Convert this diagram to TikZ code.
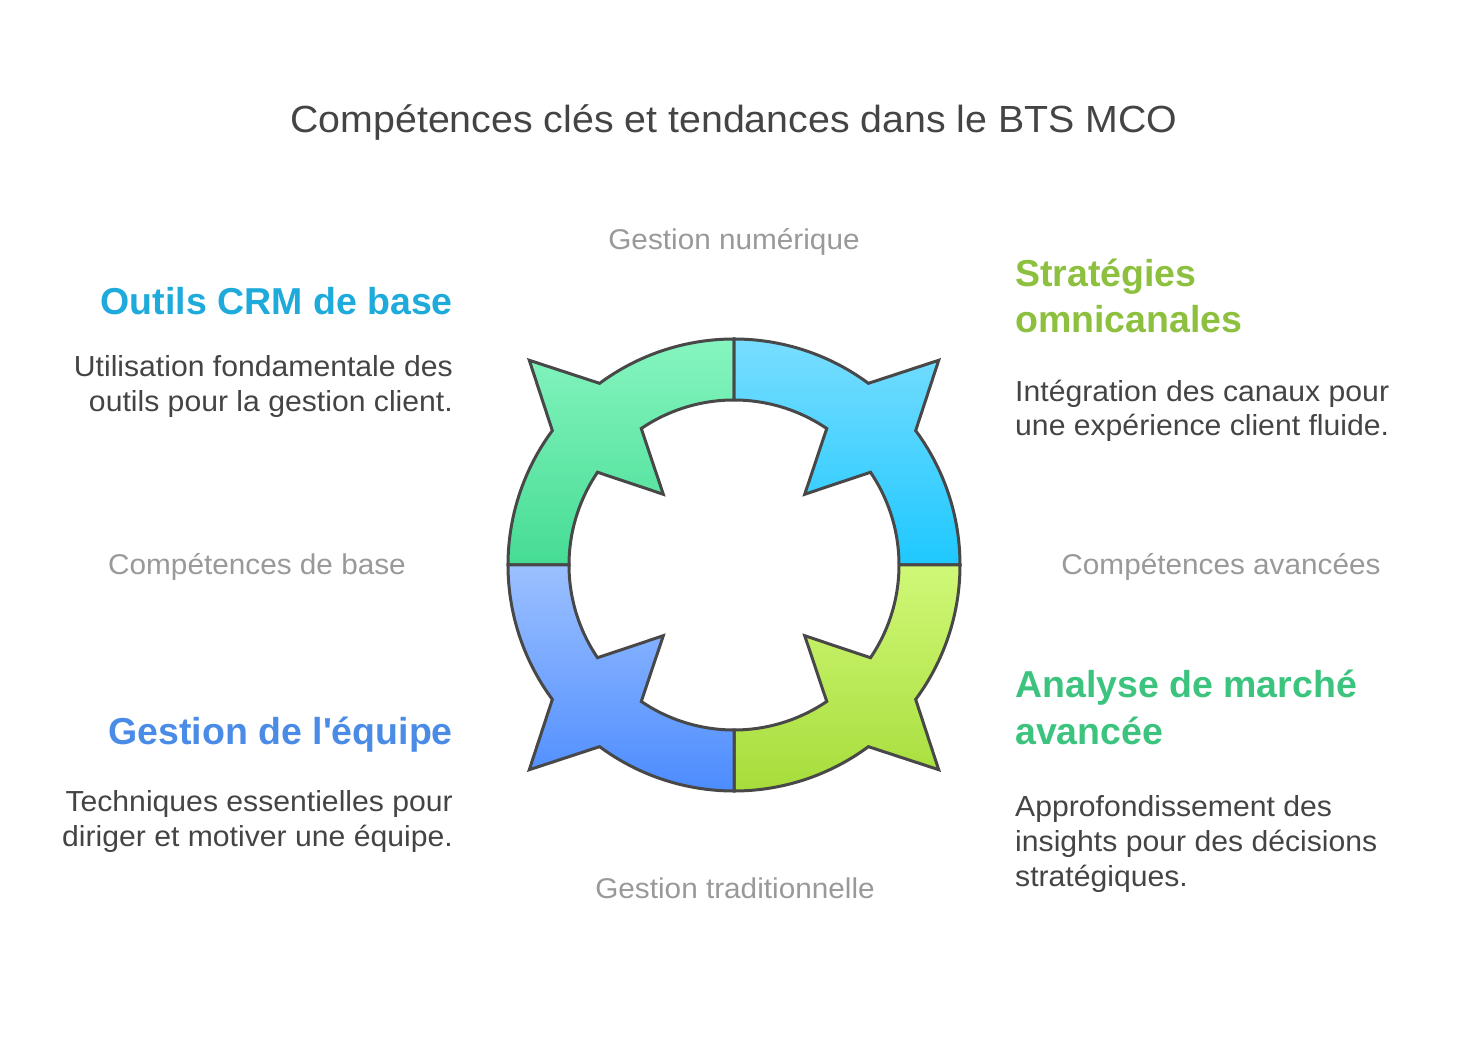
\documentclass[tikz,border=0pt]{standalone}
\usepackage{fontspec}
\setmainfont{Liberation Sans}
\newfontfamily\regwide[FakeStretch=1.04]{Liberation Sans}
\definecolor{ink}{HTML}{444444}
\definecolor{axisgrey}{HTML}{999999}
\definecolor{edge}{HTML}{484848}
\definecolor{crmblue}{HTML}{1EAADB}
\definecolor{stratgreen}{HTML}{8DC03E}
\definecolor{analgreen}{HTML}{3CC47F}
\definecolor{teamblue}{HTML}{4A8BE6}
\definecolor{tlTop}{HTML}{86F5C0}
\definecolor{tlBot}{HTML}{46DC94}
\definecolor{trTop}{HTML}{78DDFF}
\definecolor{trBot}{HTML}{1EC8FF}
\definecolor{brTop}{HTML}{D0F877}
\definecolor{brBot}{HTML}{A6DD3B}
\definecolor{blTop}{HTML}{9CC0FF}
\definecolor{blBot}{HTML}{4C8CFF}
\begin{document}
\begin{tikzpicture}[x=1pt,y=1pt,
  quad/.style={draw=edge, line width=3pt, line join=miter},
  titletext/.style={font=\regwide\fontsize{37.8}{45}\selectfont, text=ink, inner sep=0pt},
  axislabel/.style={font=\regwide\fontsize{28.6}{34}\selectfont, text=axisgrey, inner sep=0pt},
  headtext/.style={font=\fontsize{37.5}{45}\selectfont\bfseries, inner sep=0pt},
  desctext/.style={font=\regwide\fontsize{29}{35}\selectfont, text=ink, inner sep=0pt}]
\useasboundingbox (0,0) rectangle (1469,1036);

\begin{scope}[shift={(734,471)}]
  % top-left
  \path[quad, top color=tlTop, bottom color=tlBot]
    (90:226) arc[start angle=90,end angle=126.5,radius=226] -- (135:289.5) -- (143.5:226)
    arc[start angle=143.5,end angle=180,radius=226] -- (180:165)
    arc[start angle=180,end angle=145.8,radius=165] -- (135:100) -- (124.2:165)
    arc[start angle=124.2,end angle=90,radius=165] -- cycle;
  % top-right
  \path[quad, top color=trTop, bottom color=trBot]
    (0:226) arc[start angle=0,end angle=36.5,radius=226] -- (45:289.5) -- (53.5:226)
    arc[start angle=53.5,end angle=90,radius=226] -- (90:165)
    arc[start angle=90,end angle=55.8,radius=165] -- (45:100) -- (34.2:165)
    arc[start angle=34.2,end angle=0,radius=165] -- cycle;
  % bottom-right
  \path[quad, top color=brTop, bottom color=brBot]
    (270:226) arc[start angle=270,end angle=306.5,radius=226] -- (315:289.5) -- (323.5:226)
    arc[start angle=323.5,end angle=360,radius=226] -- (0:165)
    arc[start angle=360,end angle=325.8,radius=165] -- (315:100) -- (304.2:165)
    arc[start angle=304.2,end angle=270,radius=165] -- cycle;
  % bottom-left
  \path[quad, top color=blTop, bottom color=blBot]
    (180:226) arc[start angle=180,end angle=216.5,radius=226] -- (225:289.5) -- (233.5:226)
    arc[start angle=233.5,end angle=270,radius=226] -- (270:165)
    arc[start angle=270,end angle=235.8,radius=165] -- (225:100) -- (214.2:165)
    arc[start angle=214.2,end angle=180,radius=165] -- cycle;
\end{scope}

% title
\node[titletext, anchor=base] (title) at (734,903) {Compétences clés et tendances dans le BTS MCO};

% axis labels
\node[axislabel, anchor=base] (axtop) at (734,786) {Gestion numérique};
\node[axislabel, anchor=base] (axleft) at (257,461) {Compétences de base};
\node[axislabel, anchor=base] (axright) at (1221,461) {Compétences avancées};
\node[axislabel, anchor=base] (axbottom) at (735,138) {Gestion traditionnelle};

% top-left block
\node[headtext, text=crmblue, anchor=base east] (h1) at (453,721) {Outils CRM de base};
\node[desctext, anchor=base east] (d1a) at (453,659) {Utilisation fondamentale des};
\node[desctext, anchor=base east] (d1b) at (453,624) {outils pour la gestion client.};

% top-right block
\node[headtext, text=stratgreen, anchor=base west] (h2a) at (1015,749) {Stratégies};
\node[headtext, text=stratgreen, anchor=base west] (h2b) at (1015,703) {omnicanales};
\node[desctext, anchor=base west] (d2a) at (1015,634) {Intégration des canaux pour};
\node[desctext, anchor=base west] (d2b) at (1015,600) {une expérience client fluide.};

% bottom-right block
\node[headtext, text=analgreen, anchor=base west] (h3a) at (1015,338) {Analyse de marché};
\node[headtext, text=analgreen, anchor=base west] (h3b) at (1015,291) {avancée};
\node[desctext, anchor=base west] (d3a) at (1015,219) {Approfondissement des};
\node[desctext, anchor=base west] (d3b) at (1015,184) {insights pour des décisions};
\node[desctext, anchor=base west] (d3c) at (1015,149) {stratégiques.};

% bottom-left block
\node[headtext, text=teamblue, anchor=base east] (h4) at (453,291) {Gestion de l\textquotesingle équipe};
\node[desctext, anchor=base east] (d4a) at (453,224) {Techniques essentielles pour};
\node[desctext, anchor=base east] (d4b) at (453,189) {diriger et motiver une équipe.};
\end{tikzpicture}
\end{document}
